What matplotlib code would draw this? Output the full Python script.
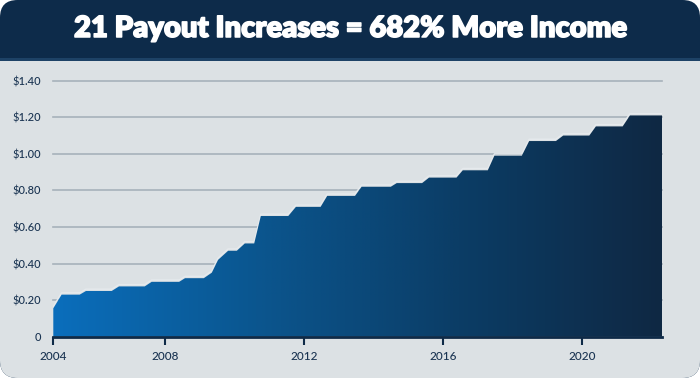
import numpy as np
import matplotlib.pyplot as plt
import matplotlib.patheffects as pe
from matplotlib.patches import FancyBboxPatch, Rectangle, Polygon
from matplotlib.colors import LinearSegmentedColormap

# payout per share (step chart), x in fractional years
years = [2004.79, 2005.03, 2005.55, 2005.73, 2006.47, 2006.68, 2007.42, 2007.62,
         2008.41, 2008.58, 2009.12, 2009.35, 2009.53, 2009.82, 2010.07, 2010.30,
         2010.57, 2010.76, 2011.55, 2011.77, 2012.48, 2012.67, 2013.47, 2013.66,
         2014.50, 2014.67, 2015.40, 2015.60, 2016.39, 2016.57, 2017.29, 2017.48,
         2018.27, 2018.48, 2019.25, 2019.46, 2020.21, 2020.40, 2021.17, 2021.38,
         2022.31]
payout = [0.155, 0.23, 0.23, 0.25, 0.25, 0.275, 0.275, 0.30,
          0.30, 0.32, 0.32, 0.35, 0.42, 0.47, 0.47, 0.51,
          0.51, 0.66, 0.66, 0.71, 0.71, 0.77, 0.77, 0.82,
          0.82, 0.84, 0.84, 0.87, 0.87, 0.91, 0.91, 0.99,
          0.99, 1.07, 1.07, 1.10, 1.10, 1.15, 1.15, 1.21,
          1.21]
xtick_pos = [2004.79, 2008, 2012, 2016, 2020]
xtick_labels = ['2004', '2008', '2012', '2016', '2020']
ytick_vals = [0, 0.2, 0.4, 0.6, 0.8, 1.0, 1.2, 1.4]
ytick_labels = ['0', '$0.20', '$0.40', '$0.60', '$0.80', '$1.00', '$1.20', '$1.40']

navy = '#0d2b4a'
bg = '#dce1e4'
text_c = '#1a3452'

W, H = 700, 378
fig = plt.figure(figsize=(7, 3.78), dpi=100, facecolor='white')

# card background with rounded corners
fig.patches.append(FancyBboxPatch((0, 0), 1, 1, boxstyle='round,pad=0,rounding_size=0.025',
                                  transform=fig.transFigure, facecolor=navy, edgecolor='none',
                                  mutation_aspect=W / H, zorder=-3))
fig.patches.append(Rectangle((0, 0.2), 1, 1 - 0.2 - 61 / H, transform=fig.transFigure,
                             facecolor=bg, edgecolor='none', zorder=-2))
fig.patches.append(FancyBboxPatch((0, 0), 1, 0.5, boxstyle='round,pad=0,rounding_size=0.025',
                                  transform=fig.transFigure, facecolor=bg, edgecolor='none',
                                  mutation_aspect=W / H, zorder=-2))
fig.patches.append(Rectangle((0, 1 - 61 / H), 1, 3 / H, transform=fig.transFigure,
                             facecolor='#1d4266', edgecolor='none', zorder=-1))

fig.text(0.5, 1 - 29 / H, '21 Payout Increases = 682% More Income', ha='center', va='center',
         color='white', fontsize=21, fontweight='heavy', family=['Lato', 'DejaVu Sans'],
         path_effects=[pe.withStroke(linewidth=1.1, foreground='white')])

ax = fig.add_axes([53.3 / W, (H - 336.7) / H, (662.3 - 53.3) / W, (336.7 - 80.7) / H])
ax.set_zorder(5)
ax.set_facecolor('none')

for v in ytick_vals[1:]:
    ax.axhline(v, color='#a7b1ba', lw=1.2, zorder=1, clip_on=False)

# gradient-filled area
x = np.array(years)
y = np.array(payout)
verts = np.column_stack([np.r_[x[0], x, x[-1]], np.r_[0, y, 0]])
poly = Polygon(verts, closed=True, facecolor='none', edgecolor='none')
ax.add_patch(poly)
ax.plot(x, y + 0.01, color='#e6eaed', lw=1.0, zorder=2)
cmap = LinearSegmentedColormap.from_list('g', ['#0a6ebc', '#0b568f', '#0b3d66', '#0f2843'])
grad = np.linspace(0, 1, 256).reshape(1, -1)
im = ax.imshow(grad, cmap=cmap, aspect='auto', extent=[x[0], x[-1], 0, 1.4], zorder=3)
im.set_clip_path(poly)
ax.set_xlim(years[0], years[-1])
ax.set_ylim(0, 1.4)

for s in ['top', 'right', 'left']:
    ax.spines[s].set_visible(False)
ax.spines['bottom'].set_color('#0e2a47')
ax.spines['bottom'].set_linewidth(2)
ax.spines['bottom'].set_zorder(5)

ax.set_xticks(xtick_pos)
ax.set_xticklabels(xtick_labels)
ax.set_yticks(ytick_vals)
ax.set_yticklabels(ytick_labels)
ax.tick_params(axis='x', length=6, width=1.5, color='#0e2a47', pad=4, labelsize=8.5, labelcolor=text_c)
ax.tick_params(axis='y', length=0, pad=9, labelsize=8, labelcolor=text_c)
for lab in ax.get_xticklabels() + ax.get_yticklabels():
    lab.set_family(['Lato', 'DejaVu Sans'])
    lab.set_fontweight('medium')

fig.savefig('out.png', dpi=100, facecolor='white')
